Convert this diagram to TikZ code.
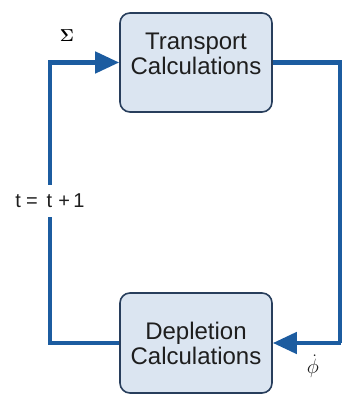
\documentclass[tikz,border=0pt]{standalone}
\usepackage{bm}
\usepackage{fontspec}
\setmainfont{Liberation Sans}
\usetikzlibrary{arrows.meta}
\definecolor{flow}{RGB}{28,92,160}
\definecolor{boxfill}{RGB}{219,229,241}
\definecolor{boxline}{RGB}{40,62,92}
\definecolor{txt}{RGB}{30,30,30}
\begin{document}
\begin{tikzpicture}[x=1pt,y=1pt,
  box/.style={draw=boxline,line width=1.6pt,fill=boxfill,rounded corners=10pt,minimum width=152pt,inner sep=0pt},
  boxtext/.style={text=txt,align=center,font=\fontsize{24}{25}\selectfont,inner sep=0pt},
  flowline/.style={draw=flow,line width=4.5pt},
  flowarrow/.style={flowline,-{Triangle[length=24pt,width=21pt]}}]
\useasboundingbox (0,0) rectangle (341,395);
\node[box,minimum height=99pt] (T) at (196,332.5) {};
\node[boxtext] (Tt) at (196,341) {Transport\\Calculations};
\node[box,minimum height=100pt] (B) at (196,52) {};
\node[boxtext] (Bt) at (196,52) {Depletion\\Calculations};
\coordinate (tr) at (340.5,332.5);
\coordinate (br) at (340.5,52);
\coordinate (bl) at (50,52);
\coordinate (tl) at (50,332.5);
\draw[flowline] (T.east) -- (tr) -- (br);
\draw[flowarrow] (br) -- (B.east);
\draw[flowarrow] (B.west) -- (bl) -- (tl) -- (T.west);
\node[fill=white,text=txt,font=\fontsize{20}{20}\selectfont,inner xsep=1pt,inner ysep=9pt] (inc) at (50,194) {t\kern5pt=\kern9pt t\kern6pt+\kern3.5pt1};
\node[text=black,font=\fontsize{16}{16}\selectfont,inner sep=0pt] (sigma) at (67,359.5) {$\bm{\Sigma}$};
\node[text=txt,font=\fontsize{20}{20}\selectfont,inner sep=0pt] (phidot) at (313,29) {$\dot{\phi}$};
\end{tikzpicture}
\end{document}
